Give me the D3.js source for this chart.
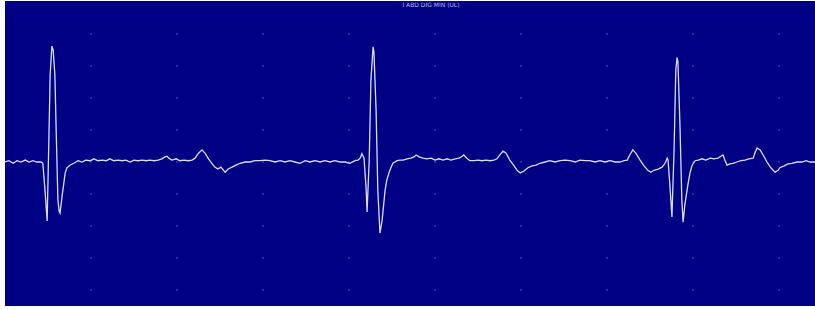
<!DOCTYPE html>
<html>
<head>
<meta charset="utf-8">
<script src="https://cdn.jsdelivr.net/npm/d3@7"></script>
<style>
  html, body { margin: 0; padding: 0; background: #fff; }
  svg { display: block; }
</style>
</head>
<body>
<div id="chart"></div>
<script>
'use strict'

// lead label
const leadTitle = 'I ABD DIG MIN (UL)'

// sample times (ms) and lead amplitude (mV)
const timeMs = [
  0, 9, 19, 28, 37, 47, 56, 65, 74, 84, 88, 93, 98, 102, 105, 109, 112, 116, 119, 123,
  126, 128, 133, 140, 144, 151, 160, 170, 179, 188, 198, 207, 216, 226, 235, 244, 253, 263, 272, 281,
  291, 300, 309, 319, 328, 337, 347, 356, 365, 372, 377, 381, 388, 398, 407, 416, 426, 435, 442, 449,
  458, 465, 472, 481, 488, 495, 502, 512, 519, 528, 537, 547, 558, 570, 581, 593, 605, 616, 628, 640,
  651, 663, 674, 686, 698, 709, 721, 733, 744, 756, 767, 779, 791, 802, 814, 821, 826, 830, 835, 840,
  842, 847, 851, 856, 858, 863, 867, 872, 877, 884, 888, 895, 902, 912, 919, 926, 935, 944, 951, 956,
  963, 972, 981, 991, 1000, 1009, 1019, 1028, 1037, 1047, 1056, 1063, 1067, 1074, 1081, 1091, 1100, 1109, 1119, 1128,
  1137, 1144, 1151, 1158, 1165, 1174, 1184, 1191, 1198, 1207, 1216, 1226, 1235, 1244, 1256, 1267, 1279, 1291, 1302, 1314,
  1326, 1337, 1349, 1360, 1372, 1384, 1395, 1407, 1419, 1430, 1440, 1447, 1453, 1460, 1467, 1477, 1486, 1495, 1502, 1509,
  1519, 1528, 1535, 1540, 1542, 1547, 1551, 1556, 1560, 1563, 1565, 1570, 1574, 1577, 1581, 1588, 1593, 1598, 1605, 1612,
  1621, 1630, 1640, 1649, 1658, 1665, 1670, 1674, 1679, 1686, 1693, 1702, 1712, 1721, 1730, 1740, 1744, 1749, 1756, 1763,
  1772, 1781, 1791, 1798, 1802, 1812, 1821, 1830, 1842, 1853, 1863, 1872, 1884
]
const leadMv = [
  0, 0.02, -0.02, 0.02, 0, 0.03, 0, 0.02, 0, 0, -0.02, -0.44, -0.92, 0.34, 1.36, 1.81, 1.75, 1.36, 0.50, -0.59,
  -0.77, -0.80, -0.52, -0.17, -0.09, -0.05, -0.02, 0.02, 0, 0.03, 0.02, 0.05, 0.02, 0.03, 0.02, 0.05, 0.02, 0.03, 0.02, 0.03,
  0, 0.03, 0.02, 0.03, 0.02, 0.03, 0.02, 0.03, 0.05, 0.08, 0.09, 0.06, 0.03, 0.05, 0.02, 0.03, 0.02, 0.03, 0.06, 0.13,
  0.19, 0.14, 0.06, -0.02, -0.08, -0.11, -0.08, -0.16, -0.11, -0.08, -0.05, -0.02, 0, 0, 0.02, 0.02, 0.03, 0.02, 0, 0.02,
  0, 0.02, 0, -0.02, 0.02, 0, 0.02, 0, 0.02, 0, 0.02, 0, 0, -0.02, 0.02, 0.03, 0.06, 0.13, 0.06, -0.44,
  -0.78, 0.03, 1.28, 1.80, 1.72, 0.81, -0.44, -1.11, -0.91, -0.44, -0.28, -0.13, -0.02, 0.02, 0.03, 0.03, 0.05, 0.06, 0.08, 0.11,
  0.08, 0.06, 0.05, 0.06, 0.03, 0.05, 0.03, 0.05, 0.03, 0.05, 0.06, 0.09, 0.11, 0.06, 0.02, 0.02, 0.03, 0.02, 0.03, 0.02,
  0.03, 0.05, 0.11, 0.17, 0.14, 0.03, -0.06, -0.13, -0.17, -0.14, -0.09, -0.06, -0.05, -0.02, 0, 0.02, 0, 0.02, 0.03, 0.02,
  0, 0.03, 0.02, 0.02, 0, 0.02, 0, 0.02, 0, 0, 0.02, 0.03, 0.11, 0.19, 0.14, 0.03, -0.06, -0.13, -0.16, -0.13,
  -0.11, -0.08, -0.02, 0.06, 0.03, -0.44, -0.86, 0.19, 1.44, 1.63, 1.56, 0.50, -0.59, -0.94, -0.67, -0.36, -0.17, -0.05, 0.02, 0.03,
  0.05, 0.03, 0.06, 0.05, 0.06, 0.09, 0.11, 0.03, -0.05, -0.03, -0.02, 0, 0.02, 0.03, 0.05, 0.06, 0.14, 0.22, 0.19, 0.11,
  0, -0.09, -0.16, -0.13, -0.09, -0.06, -0.03, -0.02, 0, 0, 0.02, 0, 0
]

// grid dots: every 200 ms and every 0.5 mV
const timeTicks = [200, 400, 600, 800, 1000, 1200, 1400, 1600, 1800]
const mvTicks = [-2, -1.5, -1, -0.5, 0, 0.5, 1, 1.5, 2]

const W = 815
const H = 309
const plot = { left: 5, top: 1, right: 815, bottom: 306 }

const x = d3.scaleLinear().domain([0, 1800]).range([5, 779])
const y = d3.scaleLinear().domain([-2, 2]).range([290, 34])

const svg = d3.select('#chart').append('svg')
  .attr('width', W)
  .attr('height', H)

svg.append('rect')
  .attr('width', W).attr('height', H)
  .attr('fill', '#ffffff')

svg.append('defs').append('clipPath').attr('id', 'plotClip')
  .append('rect')
  .attr('x', plot.left).attr('y', plot.top)
  .attr('width', plot.right - plot.left).attr('height', plot.bottom - plot.top)

svg.append('rect')
  .attr('x', plot.left).attr('y', plot.top)
  .attr('width', plot.right - plot.left).attr('height', plot.bottom - plot.top)
  .attr('fill', '#000084')

// the dotted grid
const gridPts = []
timeTicks.forEach(t => mvTicks.forEach(v => gridPts.push([t, v])))
svg.append('g')
  .selectAll('rect')
  .data(gridPts)
  .join('rect')
  .attr('x', d => x(d[0]) - 1)
  .attr('y', d => y(d[1]) - 1)
  .attr('width', 2)
  .attr('height', 2)
  .attr('fill', '#2c2c9e')

// title
svg.append('text')
  .attr('x', 431)
  .attr('y', 7)
  .attr('text-anchor', 'middle')
  .attr('font-family', 'DejaVu Sans, sans-serif')
  .attr('font-size', 6)
  .attr('fill', '#b8b8e0')
  .text(leadTitle)

// the trace
const trace = timeMs.map((t, i) => [t, leadMv[i]])
const line = d3.line()
  .x(d => x(d[0]))
  .y(d => y(d[1]))

svg.append('path')
  .datum(trace)
  .attr('clip-path', 'url(#plotClip)')
  .attr('fill', 'none')
  .attr('stroke', '#dcdcf4')
  .attr('stroke-width', 1.3)
  .attr('d', line)
</script>
</body>
</html>
